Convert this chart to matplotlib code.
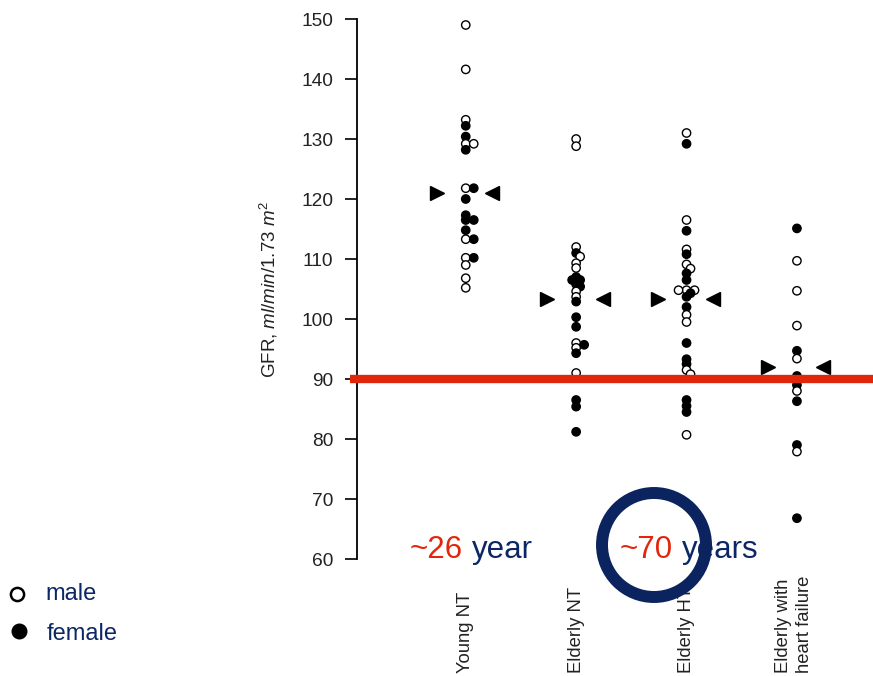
import matplotlib
matplotlib.use('Agg')
import matplotlib.pyplot as plt
from matplotlib.patches import Ellipse
from matplotlib.lines import Line2D

plt.rcParams['font.family'] = ['Liberation Sans', 'DejaVu Sans']
plt.rcParams['mathtext.fontset'] = 'custom'
plt.rcParams['mathtext.rm'] = 'Liberation Sans'
plt.rcParams['mathtext.it'] = 'Liberation Sans:italic'

# GFR values (ml/min/1.73 m2)
groups = ['Young NT', 'Elderly NT', 'Elderly HT', 'Elderly with\nheart failure']
male_vals = [
    [149, 141.6, 133.2, 129.2, 129.2, 121.8, 113.3, 110.2, 109, 106.8, 105.2],
    [130, 128.8, 112, 110.4, 109.3, 108.5, 104.6, 103.7, 96, 95.2, 91],
    [131, 116.5, 111.6, 109.1, 108.4, 104.8, 104.8, 104.8, 100.7, 99.5, 91.5, 90.8, 80.7],
    [109.7, 104.7, 98.9, 93.4, 88, 77.9],
]
female_vals = [
    [132.2, 130.4, 128.2, 121.8, 120, 117.3, 116.5, 116.5, 114.8, 113.3, 110.2],
    [111, 107, 106.5, 106.5, 105.8, 105.4, 102.9, 100.3, 98.7, 95.7, 94.3, 86.5, 85.4, 81.2],
    [129.2, 114.7, 110.8, 107.6, 106.5, 104.3, 103.7, 102, 96, 93.3, 92.5, 86.5, 85.5, 84.5],
    [115.1, 94.7, 90.5, 89, 86.3, 79, 66.8],
]
group_means = [121, 103.4, 103.3, 92]
yticks = [60, 70, 80, 90, 100, 110, 120, 130, 140, 150]
cutoff = 90

red = '#e0270c'
navy = '#0c2766'

W, H = 873, 676
fig = plt.figure(figsize=(W / 100, H / 100), dpi=100)
ax = fig.add_axes([357 / W, 1 - 559 / H, (W - 357) / W, 540 / H])
ax.set_xlim(0.015, 4.689)
ax.set_ylim(60, 150)
for s in ['top', 'right', 'bottom']:
    ax.spines[s].set_visible(False)
ax.spines['left'].set_linewidth(1.3)
ax.set_xticks([])
ax.set_yticks(yticks)
ax.tick_params(axis='y', length=8.5, width=1.2, pad=8.5, labelsize=13.8, labelcolor='#222222')

ax.set_ylabel(r'GFR, $\mathit{ml/min/1.73\ m^2}$', fontsize=13.5, color='#222222')
ax.yaxis.set_label_coords(-0.149, 0.5)

px_x = 110.4  # pixels per x unit
px_y = 6.0    # pixels per GFR unit


def swarm(vals, d=8.0):
    # small dodge so overlapping dots sit side by side
    placed, offs = [], []
    for v in vals:
        y = v * px_y
        for k in [0, 1, -1, 2, -2, 3, -3]:
            x = k * 4.0
            if all((x - a) ** 2 + (y - b) ** 2 >= (0.55 * d) ** 2 for a, b in placed):
                break
        placed.append((x, y))
        offs.append(x / px_x)
    return offs


for i in range(len(groups)):
    pts = [(v, 'white') for v in male_vals[i]] + [(v, 'black') for v in female_vals[i]]
    pts.sort(key=lambda p: -p[0])
    vals = [p[0] for p in pts]
    offs = swarm(vals)
    xs = [i + 1 + o for o in offs]
    ax.scatter(xs, vals, s=36, c=[p[1] for p in pts], edgecolors='black',
               linewidths=1.0, zorder=3, clip_on=False)
    ax.plot([i + 1 - 0.26], [group_means[i]], marker='>', color='black', markersize=9.5, zorder=3)
    ax.plot([i + 1 + 0.24], [group_means[i]], marker='<', color='black', markersize=9.5, zorder=3)
    ax.text(i + 1 - (0.03 if i == 3 else 0), 41.0, groups[i], rotation=90, ha='center', va='bottom',
            multialignment='left', fontsize=13.3, color='#222222', clip_on=False,
            linespacing=1.3)

ax.plot([-0.014, 1.0], [cutoff, cutoff], color=red, linewidth=6, solid_capstyle='butt',
        transform=ax.get_yaxis_transform(), clip_on=False, zorder=5)

# age annotations
fig.text(410 / W, 1 - 558 / H, '~26', color=red, fontsize=22.5, ha='left', va='baseline')
fig.text(472 / W, 1 - 558 / H, 'year', color=navy, fontsize=22.5, ha='left', va='baseline')
fig.text(620 / W, 1 - 558 / H, '~70', color=red, fontsize=22.5, ha='left', va='baseline')
fig.text(682 / W, 1 - 558 / H, 'years', color=navy, fontsize=22.5, ha='left', va='baseline')

fig.add_artist(Ellipse((654 / W, 1 - 545 / H), width=104 / W, height=104 / H,
                       transform=fig.transFigure, fill=False, edgecolor='#0b245f',
                       linewidth=8.6, zorder=10))

# legend
fig.add_artist(Line2D([17 / W], [1 - 594 / H], marker='o', markersize=9.5, markerfacecolor='white',
                      markeredgecolor='black', markeredgewidth=1.8, linestyle='none',
                      transform=fig.transFigure))
fig.add_artist(Line2D([19 / W], [1 - 631 / H], marker='o', markersize=10.5, color='black',
                      linestyle='none', transform=fig.transFigure))
fig.text(45 / W, 1 - 594 / H, 'male', color=navy, fontsize=17, ha='left', va='center')
fig.text(47 / W, 1 - 634 / H, 'female', color=navy, fontsize=17, ha='left', va='center')

fig.savefig('out.png', dpi=100)
